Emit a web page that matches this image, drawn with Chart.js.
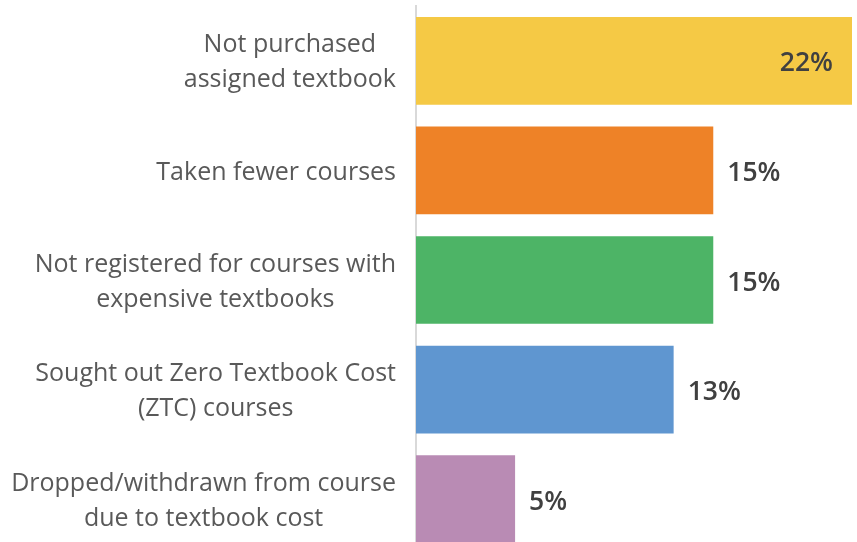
<!DOCTYPE html>
<html>
<head>
<meta charset="utf-8">
<script src="https://cdn.jsdelivr.net/npm/chart.js@4"></script>
<style>
	html, body { margin: 0; padding: 0; background: #fff; overflow: hidden; }
	#wrap { width: 857px; height: 554px; }
</style>
</head>
<body>
<div id="wrap"><canvas id="chart"></canvas></div>
<script>
// data
const categories = [
	['Not purchased', 'assigned textbook'],
	['Taken fewer courses'],
	['Not registered for courses with', 'expensive textbooks'],
	['Sought out Zero Textbook Cost', '(ZTC) courses'],
	['Dropped/withdrawn from course', 'due to textbook cost'],
];
const values = [22, 15, 15, 13, 5];
const barColors = ['#F5C945', '#EE8227', '#4DB466', '#5F96D0', '#B98BB4'];

const tickFont = '25px "Open Sans"';
const labelFont = '600 26.5px "Open Sans"';

// category labels: lines centred on each other, block right-aligned to the axis
const categoryLabels = {
	id: 'categoryLabels',
	afterDraw(chart) {
		const ctx = chart.ctx;
		const y = chart.scales.y;
		const right = chart.chartArea.left - 20;
		const lineH = 35;
		ctx.save();
		ctx.font = tickFont;
		ctx.fillStyle = '#595959';
		ctx.textAlign = 'center';
		ctx.textBaseline = 'middle';
		categories.forEach((lines, i) => {
			const widest = Math.max(...lines.map((l) => ctx.measureText(l).width));
			const cx = right - widest / 2;
			const cy = y.getPixelForValue(i) + 2;
			const top = cy - ((lines.length - 1) * lineH) / 2;
			lines.forEach((l, j) => ctx.fillText(l, cx, top + j * lineH));
		});
		ctx.restore();
	},
};

// value labels: inside the bar end when it would not fit, otherwise just outside
const valueLabels = {
	id: 'valueLabels',
	afterDatasetsDraw(chart) {
		const ctx = chart.ctx;
		const meta = chart.getDatasetMeta(0);
		ctx.save();
		ctx.font = labelFont;
		ctx.fillStyle = '#404040';
		ctx.textBaseline = 'middle';
		meta.data.forEach((bar, i) => {
			const text = values[i] + '%';
			const w = ctx.measureText(text).width;
			if (bar.x + 14 + w > chart.chartArea.right) {
				ctx.textAlign = 'right';
				ctx.fillText(text, bar.x - 19, bar.y + 3);
			} else {
				ctx.textAlign = 'left';
				ctx.fillText(text, bar.x + 14, bar.y + 3);
			}
		});
		ctx.restore();
	},
};

new Chart(document.getElementById('chart'), {
	type: 'bar',
	data: {
		labels: categories.map((c) => c.join(' ')),
		datasets: [
			{
				data: values,
				backgroundColor: barColors,
				borderWidth: 0,
				categoryPercentage: 1,
				barPercentage: 0.8,
			},
		],
	},
	options: {
		indexAxis: 'y',
		responsive: true,
		maintainAspectRatio: false,
		animation: false,
		layout: {
			padding: { top: 6, right: 5, bottom: 0, left: 0 },
		},
		scales: {
			x: {
				display: false,
				min: 0,
				max: 22,
			},
			y: {
				grid: { display: false },
				border: { display: true, color: '#D9D9D9', width: 2 },
				ticks: { display: false },
				afterFit: (scale) => {
					scale.width = 416;
				},
			},
		},
		plugins: {
			legend: { display: false },
			tooltip: { enabled: false },
		},
	},
	plugins: [categoryLabels, valueLabels],
});
</script>
</body>
</html>
